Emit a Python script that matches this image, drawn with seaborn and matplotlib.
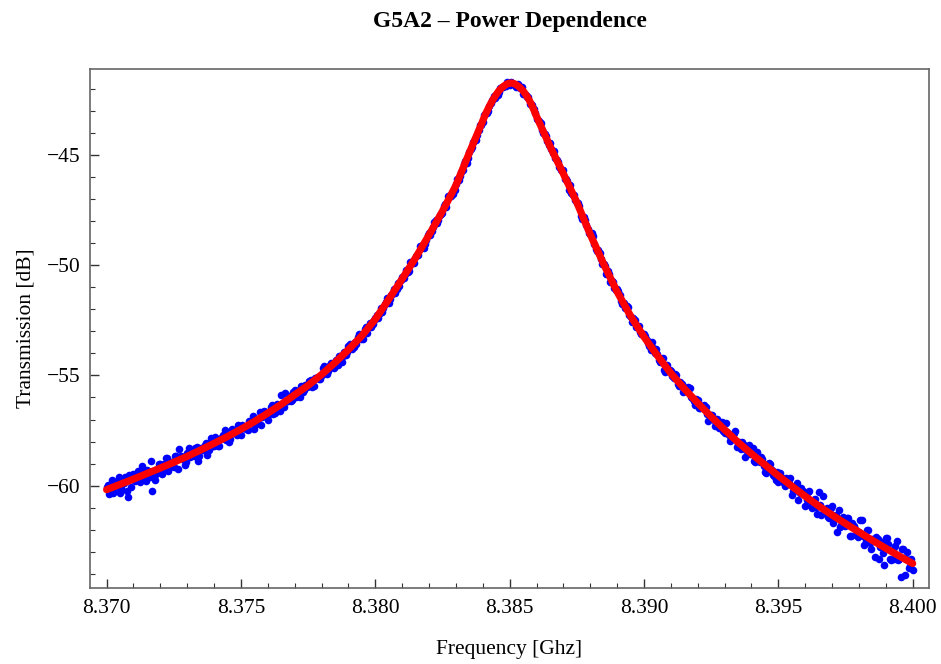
import matplotlib
matplotlib.use("Agg")
import matplotlib.pyplot as plt
import seaborn as sns
import pandas as pd
import numpy as np
from matplotlib.ticker import MultipleLocator, FuncFormatter

# measured transmission, sweep A: one point every 0.0001 GHz from 8.37000
freq_start_a = 8.37000
# sweep B: interleaved, one point every 0.0001 GHz from 8.37005
freq_start_b = 8.37005
freq_step = 0.0001

trans_db_a = [
    -60.07, -60.38, -59.74, -60.12, -59.79, -60.33, -59.86, -59.59, -60.50, -60.06,
    -59.48, -59.59, -59.74, -59.13, -59.56, -59.31, -59.62, -60.25, -59.75, -59.25,
    -59.03, -59.26, -58.74, -59.32, -58.91, -59.14, -58.64, -58.33, -58.81, -59.08,
    -58.52, -58.72, -58.51, -58.28, -58.86, -58.29, -58.36, -58.08, -58.40, -57.83,
    -58.21, -58.00, -58.22, -57.78, -57.48, -57.84, -57.88, -57.51, -57.59, -57.27,
    -57.68, -57.35, -57.43, -57.05, -57.09, -57.44, -57.12, -56.68, -56.88, -56.66,
    -57.02, -56.43, -56.73, -56.43, -56.48, -55.89, -56.44, -56.18, -55.94, -56.12,
    -55.67, -55.77, -56.00, -55.76, -55.43, -55.50, -55.19, -55.46, -55.10, -55.16,
    -54.96, -54.59, -54.92, -54.51, -54.61, -54.39, -54.54, -54.10, -54.10, -54.08,
    -53.65, -53.60, -53.72, -53.56, -53.11, -53.25, -52.91, -53.09, -52.61, -52.66,
    -52.40, -52.38, -51.95, -51.95, -51.65, -51.72, -51.35, -51.07, -51.06, -50.94,
    -50.52, -50.41, -50.30, -49.86, -49.87, -49.60, -49.55, -49.12, -49.23, -48.84,
    -48.56, -48.46, -48.04, -48.10, -47.73, -47.63, -47.21, -46.86, -46.86, -46.77,
    -46.32, -46.12, -45.77, -45.41, -45.35, -44.87, -44.63, -44.26, -44.10, -43.63,
    -43.50, -43.14, -43.00, -42.62, -42.32, -42.28, -42.15, -41.91, -41.87, -41.69,
    -41.83, -41.73, -41.83, -41.80, -41.94, -42.22, -42.30, -42.35, -42.69, -42.90,
    -43.36, -43.45, -43.85, -44.04, -44.36, -44.45, -44.93, -45.12, -45.31, -45.66,
    -45.69, -46.10, -46.59, -46.74, -46.81, -47.19, -47.32, -47.89, -47.97, -48.38,
    -48.60, -48.68, -49.27, -49.31, -49.74, -49.93, -50.38, -50.39, -50.72, -51.05,
    -51.07, -51.35, -51.75, -51.94, -51.91, -52.34, -52.38, -52.82, -52.76, -53.11,
    -53.11, -53.39, -53.68, -53.50, -53.96, -54.02, -54.40, -54.23, -54.85, -54.74,
    -54.80, -55.11, -54.96, -55.49, -55.41, -55.72, -55.58, -55.55, -56.01, -56.34,
    -56.13, -56.46, -56.47, -56.45, -57.07, -56.80, -57.02, -56.97, -57.37, -57.10,
    -57.61, -57.55, -57.99, -57.68, -57.52, -58.11, -58.33, -58.09, -58.37, -58.17,
    -58.45, -58.87, -58.45, -58.93, -58.77, -59.40, -59.12, -59.03, -59.50, -59.73,
    -59.83, -59.62, -59.89, -59.63, -59.86, -60.42, -60.24, -59.90, -60.32, -60.24,
    -60.94, -60.27, -60.92, -60.67, -60.96, -60.29, -61.33, -61.15, -61.00, -61.48,
    -60.90, -61.38, -62.08, -61.86, -61.41, -61.82, -61.47, -62.30, -61.82, -62.22,
    -62.10, -61.57, -62.67, -62.03, -62.59, -62.40, -63.25, -62.43, -62.78, -63.07,
    -62.38, -62.66, -63.36, -63.34, -62.53, -63.32, -62.88, -64.05, -63.01, -63.63,
    -63.82,
]

trans_db_b = [
    -59.96, -60.17, -60.34, -59.87, -59.60, -60.09, -59.87, -60.24, -59.52, -59.64,
    -59.79, -59.32, -59.83, -59.36, -59.81, -59.37, -58.90, -59.41, -59.48, -59.00,
    -59.45, -59.01, -58.73, -59.16, -59.00, -58.66, -59.25, -58.64, -58.72, -58.92,
    -58.31, -58.62, -58.65, -58.25, -58.65, -58.28, -58.14, -58.60, -58.06, -58.18,
    -57.79, -58.19, -57.88, -57.68, -57.91, -58.03, -57.45, -57.58, -57.69, -57.38,
    -57.26, -57.38, -57.49, -57.09, -56.84, -57.18, -56.97, -57.23, -56.62, -56.68,
    -56.76, -56.35, -56.71, -56.30, -56.61, -56.23, -55.81, -56.17, -56.16, -55.74,
    -56.00, -55.69, -55.48, -55.66, -55.51, -55.26, -55.52, -55.11, -55.09, -55.14,
    -54.67, -54.83, -54.79, -54.42, -54.65, -54.31, -54.13, -54.39, -53.93, -53.94,
    -53.58, -53.78, -53.48, -53.26, -53.34, -53.34, -52.82, -52.81, -52.79, -52.47,
    -52.28, -52.20, -52.12, -51.76, -51.48, -51.53, -51.27, -51.27, -50.79, -50.67,
    -50.57, -50.20, -50.25, -49.88, -49.90, -49.54, -49.15, -49.18, -49.02, -48.63,
    -48.64, -48.26, -47.95, -47.93, -47.67, -47.32, -47.37, -46.89, -46.72, -46.60,
    -46.11, -45.96, -45.69, -45.26, -45.14, -44.74, -44.41, -44.32, -43.85, -43.62,
    -43.20, -43.10, -42.76, -42.50, -42.40, -42.28, -41.95, -41.90, -41.88, -41.73,
    -41.68, -41.78, -41.90, -41.87, -41.93, -42.23, -42.36, -42.69, -42.75, -43.08,
    -43.42, -43.57, -44.00, -44.15, -44.57, -44.71, -44.84, -45.25, -45.54, -45.67,
    -46.10, -46.19, -46.36, -46.82, -47.03, -47.19, -47.76, -47.81, -48.16, -48.56,
    -48.56, -49.03, -49.35, -49.43, -49.95, -50.04, -50.25, -50.78, -50.77, -51.12,
    -51.17, -51.64, -51.73, -51.87, -52.25, -52.56, -52.47, -52.77, -53.05, -53.11,
    -53.22, -53.54, -53.85, -53.76, -53.80, -54.28, -54.34, -54.76, -54.51, -54.77,
    -55.04, -54.92, -55.40, -55.29, -55.73, -55.64, -55.51, -55.98, -56.18, -56.05,
    -56.48, -56.37, -56.36, -56.77, -56.83, -56.78, -57.29, -57.07, -57.26, -57.54,
    -57.14, -57.68, -57.89, -57.61, -58.25, -58.00, -58.01, -58.72, -58.26, -58.58,
    -58.30, -58.93, -58.75, -58.70, -59.13, -59.43, -58.95, -59.27, -59.58, -59.40,
    -59.42, -59.74, -60.03, -59.75, -59.64, -60.22, -60.16, -60.63, -60.11, -60.35,
    -60.65, -60.25, -61.00, -60.59, -61.28, -60.89, -60.48, -61.22, -61.44, -61.03,
    -61.70, -61.32, -61.12, -61.77, -61.71, -61.46, -62.29, -61.71, -61.96, -62.32,
    -61.57, -62.29, -62.52, -61.99, -62.86, -62.41, -62.32, -63.31, -62.54, -63.60,
    -62.38, -63.33, -62.94, -62.75, -63.37, -64.15, -62.87, -63.32, -63.72, -63.33,
]

# fitted curve
fit_freq = [
    8.3700, 8.3705, 8.3710, 8.3715, 8.3720, 8.3725, 8.3730, 8.3735, 8.3740, 8.3745,
    8.3750, 8.3755, 8.3760, 8.3765, 8.3770, 8.3775, 8.3780, 8.3785, 8.3790, 8.3795,
    8.3800, 8.3805, 8.3810, 8.3815, 8.3820, 8.3825, 8.3830, 8.3835,
    8.3840, 8.3841, 8.3842, 8.3843, 8.3844, 8.3845, 8.3846, 8.3847, 8.3848, 8.3849,
    8.3850, 8.3851, 8.3852, 8.3853, 8.3854, 8.3855, 8.3856, 8.3857, 8.3858, 8.3859,
    8.3860, 8.3865, 8.3870, 8.3875, 8.3880, 8.3885, 8.3890, 8.3895, 8.3900, 8.3905,
    8.3910, 8.3915, 8.3920, 8.3925, 8.3930, 8.3935, 8.3940, 8.3945, 8.3950, 8.3955,
    8.3960, 8.3965, 8.3970, 8.3975, 8.3980, 8.3985, 8.3990, 8.3995, 8.4000,
]
fit_db = [
    -60.18, -59.94, -59.70, -59.45, -59.20, -58.94, -58.67, -58.38, -58.08, -57.77,
    -57.44, -57.09, -56.71, -56.31, -55.88, -55.45, -54.96, -54.42, -53.83, -53.20,
    -52.45, -51.55, -50.62, -49.66, -48.63, -47.55, -46.38, -44.90,
    -43.45, -43.15, -42.90, -42.66, -42.45, -42.26, -42.09, -41.96, -41.86, -41.78,
    -41.74, -41.74, -41.78, -41.86, -41.96, -42.09, -42.26, -42.45, -42.68, -42.95,
    -43.25, -44.60, -45.85, -47.15, -48.60, -49.95, -51.20, -52.30, -53.25, -54.10,
    -54.90, -55.60, -56.25, -56.87, -57.46, -58.03, -58.55, -59.05, -59.55, -60.02,
    -60.48, -60.92, -61.33, -61.72, -62.10, -62.48, -62.84, -63.19, -63.53,
]

data = pd.concat([
    pd.DataFrame({"freq": freq_start_a + freq_step * np.arange(len(trans_db_a)),
                  "db": trans_db_a}),
    pd.DataFrame({"freq": freq_start_b + freq_step * np.arange(len(trans_db_b)),
                  "db": trans_db_b}),
], ignore_index=True)
fit = pd.DataFrame({"freq": fit_freq, "db": fit_db})

sns.set_style("white")
plt.rcParams["font.family"] = ["Liberation Serif", "DejaVu Serif"]
plt.rcParams["text.color"] = "black"
plt.rcParams["axes.labelcolor"] = "black"

fig = plt.figure(figsize=(9.41, 6.64), dpi=100)
ax = fig.add_axes([0.0956, 0.1145, 0.8917, 0.7816])

sns.scatterplot(data=data, x="freq", y="db", ax=ax, color="#0000ff",
                s=30, linewidth=0, zorder=2)
sns.lineplot(data=fit, x="freq", y="db", ax=ax, color="#ff0000",
             linewidth=5.2, zorder=3, solid_capstyle="round")

ax.set_xlim(8.36938, 8.40061)
ax.set_ylim(-64.64, -41.10)

ax.xaxis.set_major_locator(MultipleLocator(0.005))
ax.xaxis.set_minor_locator(MultipleLocator(0.001))
ax.yaxis.set_major_locator(MultipleLocator(5))
ax.yaxis.set_minor_locator(MultipleLocator(1))
ax.xaxis.set_major_formatter(FuncFormatter(lambda v, p: f"{v:.3f}"))
ax.yaxis.set_major_formatter(FuncFormatter(lambda v, p: f"\u2212{abs(v):.0f}" if v < 0 else f"{v:.0f}"))

ax.tick_params(which="both", direction="in", bottom=True, left=True,
               top=False, right=False,
               color="#333333", labelsize=15.5, labelcolor="black")
ax.tick_params(which="major", length=6.5, width=1)
ax.tick_params(which="minor", length=3.5, width=0.8)
ax.tick_params(axis="x", pad=8)
ax.tick_params(axis="y", pad=7)

for side in ax.spines.values():
    side.set_color("#666666")
    side.set_linewidth(1.2)

ax.set_xlabel("Frequency [Ghz]", fontsize=15.5, labelpad=16, color="black")
ax.set_ylabel("Transmission [dB]", fontsize=15.5, labelpad=8, color="black")
ax.set_title("G5A2 \u2013 Power Dependence", fontsize=17, fontweight="bold",
             pad=30, color="black")

fig.savefig("out.png", dpi=100)
